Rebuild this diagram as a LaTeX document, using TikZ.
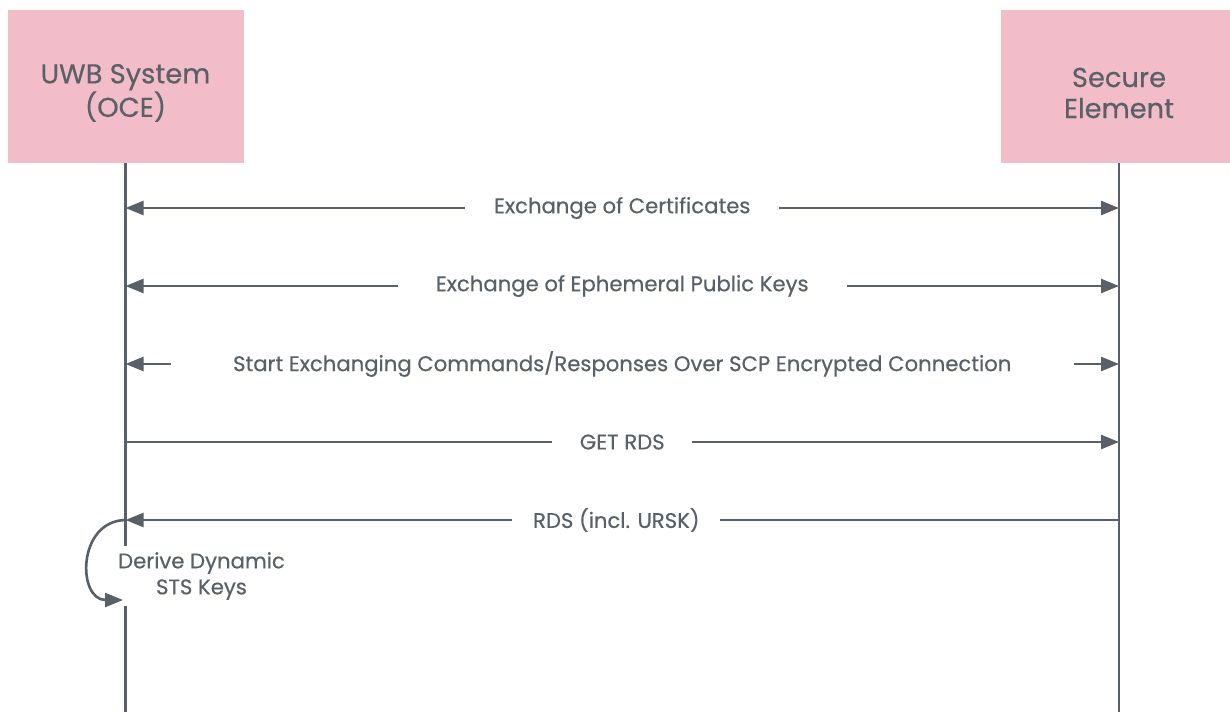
\documentclass[tikz,border=0pt]{standalone}
\usepackage{fontspec}
\setmainfont{Poppins}[FakeBold=0.4]
\usetikzlibrary{arrows.meta}
\definecolor{boxpink}{HTML}{F2BCC9}
\definecolor{ink}{HTML}{5A6067}
\begin{document}
\begin{tikzpicture}[x=1pt,y=-1pt,
  actor/.style={fill=boxpink,draw=none,minimum width=236pt,minimum height=153pt},
  title/.style={text=ink,align=center,font=\fontsize{27.3}{31}\selectfont,yshift=-6.5pt},
  life/.style={draw=ink,line width=2.4pt},
  msg/.style={draw=ink,line width=2.6pt,arrows={-Triangle[length=18pt,width=14pt]}},
  msgboth/.style={msg,arrows={Triangle[length=18pt,width=14pt]-Triangle[length=18pt,width=14pt]}},
  lbl/.style={fill=white,text=ink,inner xsep=0pt,inner ysep=2pt,minimum height=22pt,
    font=\fontsize{21.2}{26}\selectfont}]
\useasboundingbox (0,0) rectangle (1230,712);
\clip (0,0) rectangle (1230,712);
\fill[white] (0,0) rectangle (1230,712);
\node[actor,label={[title]center:UWB System\\(OCE)}] (uwb) at (125.5,86.5) {};
\node[actor,label={[title]center:Secure\\Element}] (se) at (1119,86.5) {};
\coordinate (uwbend) at (uwb.south |- 0,712);
\coordinate (seend) at (se.south |- 0,712);
\draw[life] (uwb.south) -- (uwbend);
\draw[life] (se.south) -- (seend);
% message anchor points
\coordinate (a1) at (uwb.south |- 0,208); \coordinate (b1) at (se.south |- 0,208);
\coordinate (a2) at (uwb.south |- 0,286); \coordinate (b2) at (se.south |- 0,286);
\coordinate (a3) at (uwb.south |- 0,364); \coordinate (b3) at (se.south |- 0,364);
\coordinate (a4) at (uwb.south |- 0,442); \coordinate (b4) at (se.south |- 0,442);
\coordinate (a5) at (uwb.south |- 0,520); \coordinate (b5) at (se.south |- 0,520);
\draw[msgboth] (a1) -- (b1) node[lbl,midway,minimum width=314pt] (m1) {Exchange of Certificates};
\draw[msgboth] (a2) -- (b2) node[lbl,midway,minimum width=449pt] (m2) {Exchange of Ephemeral Public Keys};
\draw[msgboth] (a3) -- (b3) node[lbl,midway,minimum width=903pt] (m3) {Start Exchanging Commands/Responses Over SCP Encrypted Connection};
\draw[msg] (a4) -- (b4) node[lbl,midway,minimum width=140pt] (m4) {GET RDS};
\draw[msg] (b5) -- (a5) node[lbl,pos=0.506,minimum width=208pt] (m5) {RDS (incl. URSK)};
% self action
\node[lbl,align=center,minimum height=60pt,inner xsep=2pt] (derive) at (201.5,576) {Derive Dynamic\\STS Keys};
\coordinate (selfend) at (123,600);
\draw[msg] (a5) .. controls (77,521) and (77,600) .. (selfend);
\end{tikzpicture}
\end{document}
